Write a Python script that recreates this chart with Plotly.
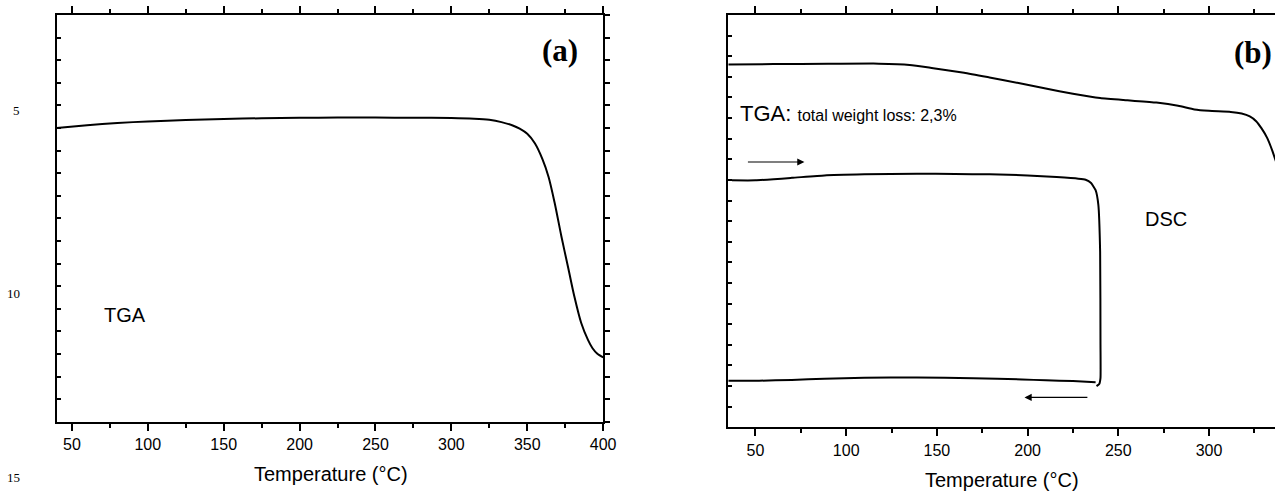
import plotly.graph_objects as go

# ---------------- Panel (a): TGA ----------------
tga_a_temp = [40, 60, 80, 100, 125, 150, 175, 200, 225, 250, 275, 300, 315, 325, 333, 340, 345,
              350, 355, 360, 364, 368, 372.5, 377, 381, 385.5, 390, 393, 396, 400]
tga_a_val = [13.0, 13.12, 13.22, 13.29, 13.35, 13.40, 13.43, 13.45, 13.46, 13.46, 13.45, 13.44, 13.41,
             13.36, 13.26, 13.12, 12.97, 12.74, 12.32, 11.62, 10.84, 9.7, 8.2, 6.8, 5.55, 4.38, 3.62,
             3.25, 3.02, 2.85]

# ---------------- Panel (b): TGA + DSC ----------------
tga_b_temp = [35, 60, 90, 118, 135, 148, 165, 179, 195, 210, 225, 240, 255, 271, 283, 292, 300, 312,
              318, 322.5, 326, 329, 332, 335, 338]
tga_b_val = [17.60, 17.62, 17.63, 17.64, 17.58, 17.42, 17.2, 16.97, 16.7, 16.43, 16.18, 15.97, 15.86,
             15.75, 15.6, 15.42, 15.35, 15.30, 15.22, 15.08, 14.85, 14.5, 14.05, 13.4, 12.6]

dsc_heat_temp = [37, 50, 70, 88, 110, 139, 160, 179, 200, 216, 228, 232, 235, 237.5, 239, 240, 240.2,
                 240.2, 239.5, 238]
dsc_heat_val = [11.98, 11.98, 12.1, 12.22, 12.27, 12.30, 12.29, 12.27, 12.22, 12.14, 12.06, 12.01,
                11.85, 11.5, 10.8, 8.5, 4.0, 2.4, 2.1, 2.0]

dsc_cool_temp = [237.5, 225, 210, 197, 170, 139, 110, 88, 70, 52, 35]
dsc_cool_val = [2.18, 2.24, 2.28, 2.32, 2.38, 2.42, 2.40, 2.35, 2.30, 2.26, 2.26]

x_ticks = [50, 100, 150, 200, 250, 300, 350, 400]
left_labels = ["5", "10", "15"]

W, H = 1288, 491
SANS = "Arial, Liberation Sans, sans-serif"
SERIF = "Times New Roman, Liberation Serif, serif"

def px_x(p):
    return p / W

def px_y(p):
    return 1 - p / H

fig = go.Figure()
line_style = dict(color="black", width=2)

fig.add_trace(go.Scatter(x=tga_a_temp, y=tga_a_val, mode="lines", line=dict(**line_style, shape="spline", smoothing=0.8),
                         xaxis="x", yaxis="y", showlegend=False, hoverinfo="skip"))
# invisible copy on the right-hand mirror axis of panel (a) so that axis is drawn
fig.add_trace(go.Scatter(x=tga_a_temp, y=tga_a_val, mode="lines", line=dict(color="rgba(0,0,0,0)", width=0),
                         xaxis="x", yaxis="y3", showlegend=False, hoverinfo="skip"))
fig.add_trace(go.Scatter(x=tga_b_temp, y=tga_b_val, mode="lines", line=dict(**line_style, shape="spline", smoothing=0.5),
                         xaxis="x2", yaxis="y2", showlegend=False, hoverinfo="skip"))
fig.add_trace(go.Scatter(x=dsc_heat_temp, y=dsc_heat_val, mode="lines", line=dict(**line_style, shape="spline", smoothing=0.4),
                         xaxis="x2", yaxis="y2", showlegend=False, hoverinfo="skip"))
fig.add_trace(go.Scatter(x=dsc_cool_temp, y=dsc_cool_val, mode="lines", line=dict(**line_style, shape="spline", smoothing=0.5),
                         xaxis="x2", yaxis="y2", showlegend=False, hoverinfo="skip"))

xa_common = dict(showline=True, linecolor="black", linewidth=2, mirror="ticks", ticks="outside",
                 ticklen=7, tickwidth=2, tickcolor="black", showgrid=False, zeroline=False,
                 tickmode="array", tickvals=x_ticks, ticktext=[str(v) for v in x_ticks],
                 tickfont=dict(family=SANS, size=16, color="black"),
                 minor=dict(dtick=25, tick0=25, ticks="outside", ticklen=4, tickwidth=1.5, tickcolor="black"))
ya_common = dict(showline=True, linecolor="black", linewidth=2, ticks="inside", ticklen=4, tickwidth=1.5,
                 tickcolor="black", showticklabels=False, showgrid=False, zeroline=False, dtick=1, tick0=0)

fig.update_layout(
    width=W, height=H, autosize=False,
    margin=dict(l=0, r=0, t=0, b=0),
    paper_bgcolor="white", plot_bgcolor="white",
    xaxis=dict(**xa_common, domain=[px_x(57.3), px_x(609.3)], range=[40, 400], anchor="y"),
    yaxis=dict(**ya_common, domain=[px_y(421.7), px_y(15)], range=[0, 18], anchor="x", mirror=False),
    yaxis3=dict(showline=True, linecolor="black", linewidth=2, ticks="outside", ticklen=5, tickwidth=1.5,
                tickcolor="black", showticklabels=False, showgrid=False, zeroline=False, dtick=1, tick0=0,
                range=[0, 18], overlaying="y", side="right", anchor="x"),
    xaxis2=dict(**xa_common, domain=[px_x(735.7), 1.0], range=[35, 336.4], anchor="y2"),
    yaxis2=dict(**ya_common, domain=[px_y(427.3), px_y(15)], range=[0, 20], anchor="x2", mirror=False),
)

ann = []
# stray left labels
for lab, py in zip(left_labels, [110, 293, 477]):
    ann.append(dict(text=lab, x=px_x(22), y=px_y(py), xref="paper", yref="paper", showarrow=False,
                    font=dict(family=SERIF, size=13, color="black"), xanchor="right", yanchor="middle"))
# axis titles
ann.append(dict(text="Temperature (°C)", x=px_x(334), y=px_y(474), xref="paper", yref="paper", showarrow=False,
                font=dict(family=SANS, size=20, color="black"), xanchor="center", yanchor="middle"))
ann.append(dict(text="Temperature (°C)", x=px_x(1012), y=px_y(480), xref="paper", yref="paper", showarrow=False,
                font=dict(family=SANS, size=20, color="black"), xanchor="center", yanchor="middle"))
# panel labels
ann.append(dict(text="<b>(a)</b>", x=371.4, y=16.45, xref="x", yref="y", showarrow=False,
                font=dict(family=SERIF, size=31, color="black"), xanchor="center", yanchor="middle"))
ann.append(dict(text="<b>(b)</b>", x=324.4, y=18.17, xref="x2", yref="y2", showarrow=False,
                font=dict(family=SERIF, size=31, color="black"), xanchor="center", yanchor="middle"))
ann.append(dict(text="TGA", x=85.2, y=4.72, xref="x", yref="y", showarrow=False,
                font=dict(family=SANS, size=20, color="black"), xanchor="center", yanchor="middle"))
ann.append(dict(text="TGA: <span style='font-size:16px'>total weight loss: 2,3%</span>", x=40.5, y=15.24,
                xref="x2", yref="y2", showarrow=False,
                font=dict(family=SANS, size=22, color="black"), xanchor="left", yanchor="middle"))
ann.append(dict(text="DSC", x=276.1, y=10.09, xref="x2", yref="y2", showarrow=False,
                font=dict(family=SANS, size=20, color="black"), xanchor="center", yanchor="middle"))
# direction arrows
ann.append(dict(text="", x=77, y=12.87, ax=45, ay=12.87, xref="x2", yref="y2", axref="x2", ayref="y2",
                showarrow=True, arrowhead=2, arrowsize=1.2, arrowwidth=1.2, arrowcolor="black"))
ann.append(dict(text="", x=198.3, y=1.45, ax=233.8, ay=1.45, xref="x2", yref="y2", axref="x2", ayref="y2",
                showarrow=True, arrowhead=2, arrowsize=1.2, arrowwidth=1.2, arrowcolor="black"))
fig.update_layout(annotations=ann)

fig.write_html("out.html", config={"displayModeBar": False},
               post_script="document.body.style.margin='0';document.body.style.overflow='hidden';")
